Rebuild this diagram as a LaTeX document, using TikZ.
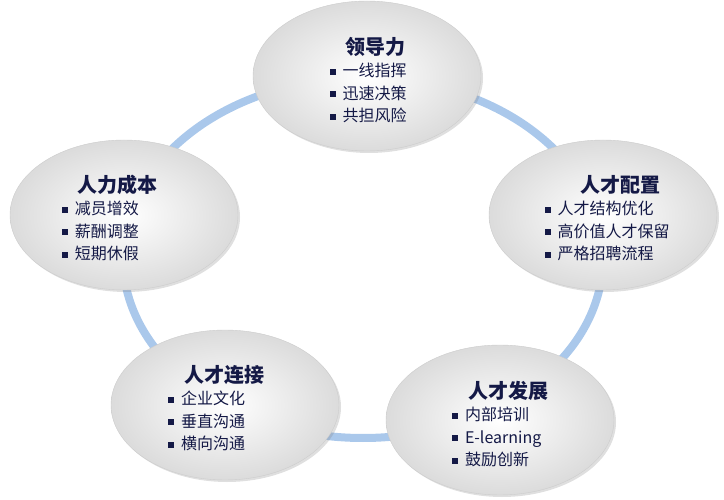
\documentclass[tikz,border=0pt]{standalone}
\usepackage{fontspec}
\setmainfont{Noto Sans CJK SC}
\usetikzlibrary{shadows,shapes.geometric}
\definecolor{navy}{RGB}{20,25,70}
\definecolor{ring}{RGB}{170,200,235}
\begin{document}
\begin{tikzpicture}[x=1pt,y=-1pt,
  bubble/.style={ellipse,minimum width=228pt,minimum height=150pt,inner color=white,outer color=black!14,draw=black!20,line width=0.4pt,drop shadow={opacity=0.25,shadow xshift=2pt,shadow yshift=-2pt}},
  lbl/.style={text=navy,align=left,font=\fontsize{16pt}{22.5pt}\selectfont}]
\useasboundingbox (0,0) rectangle (724,500);
\draw[ring,line width=8pt] (363,258) ellipse [x radius=240,y radius=180];
\newcommand\itm{\textcolor{navy}{\rule[2pt]{6pt}{6pt}}\hspace{7pt}}
\newcommand\ttl[1]{\hspace*{1em}{\fontsize{20pt}{26pt}\selectfont\bfseries #1}\\}
\node[bubble] (a) at (367,76) {};
\node[lbl] (at) at (368,80) {\ttl{领导力}\itm 一线指挥\\\itm 迅速决策\\\itm 共担风险};
\node[bubble] (b) at (603,215) {};
\node[lbl] (bt) at (607,218) {\ttl{\hspace*{1em}人才配置}\itm 人才结构优化\\\itm 高价值人才保留\\\itm 严格招聘流程};
\node[bubble] (c) at (500,420) {};
\node[lbl] (ct) at (500,424) {\ttl{人才发展}\itm 内部培训\\\itm E-learning\\\itm 鼓励创新};
\node[bubble] (d) at (225,405) {};
\node[lbl] (dt) at (216,408) {\ttl{人才连接}\itm 企业文化\\\itm 垂直沟通\\\itm 横向沟通};
\node[bubble] (e) at (124,215) {};
\node[lbl] (et) at (110,218) {\ttl{人力成本}\itm 减员增效\\\itm 薪酬调整\\\itm 短期休假};
\end{tikzpicture}
\end{document}
